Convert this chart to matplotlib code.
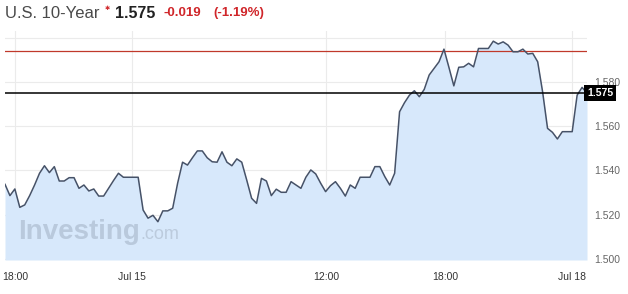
import numpy as np
import matplotlib
matplotlib.use("Agg")
import matplotlib.pyplot as plt

plt.rcParams["font.family"] = ["Liberation Sans", "DejaVu Sans"]

# US 10-year yield (one point every ~5 px)
yields = [
    1.5337, 1.5286, 1.5316, 1.5233, 1.5244, 1.5286, 1.5334, 1.5387, 1.5421, 1.5390,
    1.5417, 1.5352, 1.5352, 1.5367, 1.5367, 1.5319, 1.5334, 1.5307, 1.5316, 1.5284,
    1.5284, 1.5319, 1.5354, 1.5387, 1.5369, 1.5369, 1.5369, 1.5369, 1.5221, 1.5184,
    1.5197, 1.5168, 1.5217, 1.5217, 1.5229, 1.5342, 1.5437, 1.5424, 1.5457, 1.5488,
    1.5488, 1.5457, 1.5439, 1.5437, 1.5484, 1.5437, 1.5421, 1.5452, 1.5437, 1.5357,
    1.5274, 1.5251, 1.5364, 1.5352, 1.5286, 1.5315, 1.5301, 1.5301, 1.5349, 1.5334,
    1.5319, 1.5369, 1.5402, 1.5384, 1.5342, 1.5304, 1.5331, 1.5349, 1.5319, 1.5284,
    1.5334, 1.5319, 1.5369, 1.5369, 1.5369, 1.5417, 1.5417, 1.5372, 1.5334, 1.5387,
    1.5665, 1.5706, 1.5740, 1.5760, 1.5733, 1.5766, 1.5831, 1.5861, 1.5891, 1.5948,
    1.5866, 1.5782, 1.5866, 1.5868, 1.5884, 1.5868, 1.5951, 1.5951, 1.5951, 1.5984,
    1.5971, 1.5981, 1.5966, 1.5936, 1.5936, 1.5948, 1.5926, 1.5929, 1.5891, 1.5755,
    1.5590, 1.5572, 1.5542, 1.5575, 1.5575, 1.5575, 1.5740, 1.5775, 1.5750,
]
last_price = 1.575
prev_close = 1.594
change = "-0.019"
change_pct = "(-1.19%)"

x_tick_pos = [2.0, 25.75, 65.1, 89.2, 115.0]
x_tick_labels = ["18:00", "Jul 15", "12:00", "18:00", "Jul 18"]
y_ticks = [1.50, 1.52, 1.54, 1.56, 1.58, 1.60]
y_tick_labels = ["1.500", "1.520", "1.540", "1.560", "1.580", ""]

line_col = "#465268"
fill_col = "#d7e8fb"
red = "#d0262a"

fig = plt.figure(figsize=(6.28, 2.94), dpi=100)
ax = fig.add_axes([5 / 628, 34 / 294, 582 / 628, 229 / 294])

x = np.arange(len(yields))
ymin, ymax = 1.4995, 1.603
ax.fill_between(x, yields, ymin, color=fill_col, lw=0, zorder=1)
ax.plot(x, yields, color=line_col, lw=1.1, zorder=3)

ax.axhline(prev_close, color="#c0392b", lw=0.9, zorder=2)
ax.axhline(last_price, color="black", lw=1.1, zorder=4)

ax.set_xlim(0, len(yields) - 1)
ax.set_ylim(ymin, ymax)
ax.set_xticks(x_tick_pos)
ax.set_xticklabels(x_tick_labels, fontsize=7.5, color="#333333")
ax.get_xticklabels()[0].set_x(2.8)
ax.yaxis.tick_right()
ax.set_yticks(y_ticks)
ax.set_yticklabels(y_tick_labels, fontsize=7.5, color="#666666")
ax.tick_params(axis="both", length=0)
ax.tick_params(axis="x", pad=9)
ax.tick_params(axis="y", pad=5)
ax.grid(True, color="#ebebeb", lw=0.8, zorder=0)
ax.set_axisbelow(True)
for s in ax.spines.values():
    s.set_visible(False)

# price tag on the right axis
ax.text(1.0, last_price, f"{last_price:.3f}", transform=ax.get_yaxis_transform(),
        ha="left", va="center", fontsize=7.5, fontweight="bold", color="white",
        bbox=dict(boxstyle="square,pad=0.3", fc="black", ec="none"), zorder=6)

# watermark
ax.text(0.022, 0.09, "Investing", transform=ax.transAxes, fontsize=20,
        fontweight="bold", color="#b9c9dc", ha="left", va="baseline", zorder=2)
ax.text(0.232, 0.09, ".com", transform=ax.transAxes, fontsize=13,
        color="#bccbdd", ha="left", va="baseline", zorder=2)

# header
fig.text(5 / 628, 1 - 13 / 294, "U.S. 10-Year", fontsize=12, color="#4a4a4a",
         ha="left", va="center")
fig.text(107 / 628, 1 - 8 / 294, "\u2731", fontsize=4.5, color=red,
         ha="center", va="center", family=["DejaVu Sans"])
fig.text(115 / 628, 1 - 13 / 294, f"{last_price:.3f}", fontsize=11.5,
         fontweight="bold", color="#222222", ha="left", va="center")
fig.text(163 / 628, 1 - 13 / 294, change, fontsize=9.5, fontweight="bold",
         color=red, ha="left", va="center")
fig.text(213 / 628, 1 - 13 / 294, change_pct, fontsize=9.5, fontweight="bold",
         color=red, ha="left", va="center")

fig.savefig("out.png", dpi=100)
